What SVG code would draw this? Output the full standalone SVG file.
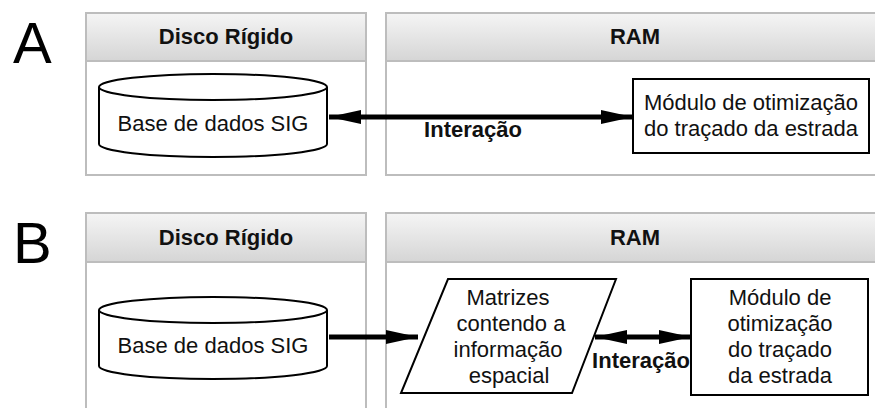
<svg xmlns="http://www.w3.org/2000/svg" width="875" height="408" viewBox="0 0 875 408">
<defs>
<linearGradient id="hdr" x1="0" y1="0" x2="0" y2="1">
<stop offset="0" stop-color="#f5f5f5"/>
<stop offset="1" stop-color="#d5d5d5"/>
</linearGradient>
<marker id="ah" viewBox="0 0 32 14" refX="32" refY="7" markerWidth="32" markerHeight="14" markerUnits="userSpaceOnUse" orient="auto-start-reverse">
<path d="M0,0 L32,7 L0,14 Z" fill="#000"/>
</marker>
<style>
.lane{fill:#fff;stroke:#bdbdbd;stroke-width:2}
.hd{fill:url(#hdr);stroke:#bdbdbd;stroke-width:2}
.ht{font-family:"Liberation Sans",Arial,sans-serif;font-size:22px;font-weight:bold;fill:#111;text-anchor:middle}
.t{font-family:"Liberation Sans",Arial,sans-serif;font-size:22px;fill:#111;text-anchor:middle}
.lbl{font-family:"Liberation Sans",Arial,sans-serif;font-size:22px;font-weight:bold;fill:#111;text-anchor:middle}
.big{font-family:"Liberation Sans",Arial,sans-serif;font-size:58px;fill:#000}
.shape{fill:#fff;stroke:#000;stroke-width:2}
.conn{stroke:#000;stroke-width:5;fill:none}
</style>
</defs>
<rect width="875" height="408" fill="#fff"/>

<!-- Panel A -->
<g id="panelA-letter"><text class="big" x="13" y="63">A</text></g>
<g id="laneA-disco">
<rect class="lane" x="86" y="13" width="280" height="162"/>
<rect class="hd" x="86" y="13" width="280" height="48"/>
<text class="ht" x="226" y="44">Disco Rígido</text>
</g>
<g id="laneA-ram">
<rect class="lane" x="386" y="13" width="500" height="162"/>
<rect class="hd" x="386" y="13" width="500" height="48"/>
<text class="ht" x="635" y="44">RAM</text>
</g>
<g id="nodeA-db">
<path class="shape" d="M99,87 A114,13 0 0 1 327,87 V144 A114,13 0 0 1 99,144 Z"/>
<path class="shape" d="M99,87 A114,13 0 0 0 327,87" fill="none"/>
<text class="t" x="213" y="131">Base de dados SIG</text>
</g>
<g id="nodeA-module">
<rect class="shape" x="633" y="79" width="236" height="74"/>
<text class="t" x="751" y="110">Módulo de otimização</text>
<text class="t" x="751" y="136">do traçado da estrada</text>
</g>

<!-- Panel B -->
<g id="panelB-letter"><text class="big" x="13" y="263">B</text></g>
<g id="laneB-disco">
<rect class="lane" x="86" y="213" width="280" height="210"/>
<rect class="hd" x="86" y="213" width="280" height="49"/>
<text class="ht" x="226" y="245">Disco Rígido</text>
</g>
<g id="laneB-ram">
<rect class="lane" x="386" y="213" width="500" height="210"/>
<rect class="hd" x="386" y="213" width="500" height="49"/>
<text class="ht" x="635" y="245">RAM</text>
</g>
<g id="nodeB-db">
<path class="shape" d="M99,310 A114,13 0 0 1 327,310 V366 A114,13 0 0 1 99,366 Z"/>
<path class="shape" d="M99,310 A114,13 0 0 0 327,310" fill="none"/>
<text class="t" x="213" y="353">Base de dados SIG</text>
</g>
<g id="nodeB-matrices">
<path class="shape" d="M448,279 L616,279 L572,393 L401,393 Z"/>
<text class="t" x="508" y="305">Matrizes</text>
<text class="t" x="511" y="331">contendo a</text>
<text class="t" x="508" y="357">informação</text>
<text class="t" x="509" y="383">espacial</text>
</g>
<g id="nodeB-module">
<rect class="shape" x="691" y="279" width="177" height="116"/>
<text class="t" x="780" y="305">Módulo de</text>
<text class="t" x="780" y="331">otimização</text>
<text class="t" x="780" y="357">do traçado</text>
<text class="t" x="780" y="383">da estrada</text>
</g>

<!-- Connectors -->
<g id="connectors">
<line class="conn" x1="329" y1="117" x2="633" y2="117" marker-start="url(#ah)" marker-end="url(#ah)"/>
<text class="lbl" x="473" y="137">Interação</text>
<line class="conn" x1="329" y1="337" x2="418" y2="337" marker-end="url(#ah)"/>
<line class="conn" x1="595" y1="337" x2="691" y2="337" marker-start="url(#ah)" marker-end="url(#ah)"/>
<text class="lbl" x="641" y="368">Interação</text>
</g>
</svg>
